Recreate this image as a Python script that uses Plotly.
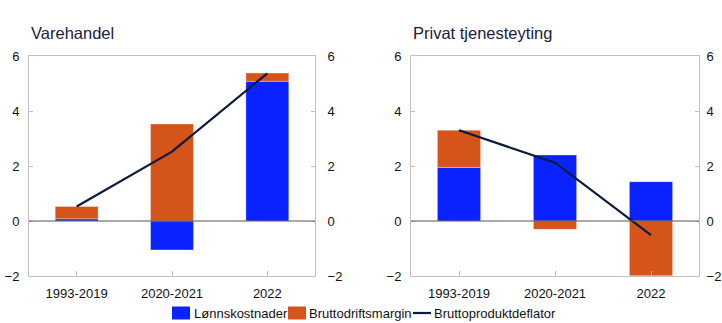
import plotly.graph_objects as go

categories = ["1993-2019", "2020-2021", "2022"]
titles = ["Varehandel", "Privat tjenesteyting"]
legend_names = ["Lønnskostnader", "Bruttodriftsmargin", "Bruttoproduktdeflator"]

vare_lonn = [0.08, -1.05, 5.08]
vare_brutto = [0.45, 3.53, 0.30]
vare_deflator = [0.53, 2.52, 5.37]

tjen_lonn = [1.95, 2.40, 1.43]
tjen_brutto = [1.35, -0.30, -1.99]
tjen_deflator = [3.30, 2.12, -0.51]

y_ticks = [-2, 0, 2, 4, 6]

BLUE = "#0a22ff"
ORANGE = "#d5541a"
NAVY = "#0b1a3d"
GRID = "#c0c0c0"
FONT = "Liberation Sans, Arial, sans-serif"

W, H = 722, 323
L, R, T, B = 29, 23, 56, 47
PW, PH = W - L - R, H - T - B


def px(x):
    return (x - L) / PW


def py(y):
    return (H - B - y) / PH


fig = go.Figure()

panels = [
    (vare_lonn, vare_brutto, vare_deflator, "x", "y"),
    (tjen_lonn, tjen_brutto, tjen_deflator, "x2", "y2"),
]
for lonn, brutto, defl, xa, ya in panels:
    fig.add_trace(go.Bar(x=categories, y=lonn, name=legend_names[0], marker_color=BLUE,
                         marker_line=dict(color="rgba(255,255,255,0.4)", width=0.8),
                         width=0.45, xaxis=xa, yaxis=ya, showlegend=False))
    fig.add_trace(go.Bar(x=categories, y=brutto, name=legend_names[1], marker_color=ORANGE,
                         marker_line=dict(color="rgba(255,255,255,0.4)", width=0.8),
                         width=0.45, xaxis=xa, yaxis=ya, showlegend=False))
    fig.add_trace(go.Scatter(x=categories, y=defl, name=legend_names[2], mode="lines",
                             line=dict(color=NAVY, width=2.2), xaxis=xa, yaxis=ya,
                             showlegend=False))

doms = [[px(29), px(315)], [px(411), px(699)]]
ydom = [0, 1]

common_y = dict(range=[-2, 6], tickvals=y_ticks, showgrid=False, showline=True, linecolor=GRID,
                linewidth=1, ticks="inside", ticklen=4, tickcolor=GRID, zeroline=False,
                tickfont=dict(size=13, color="#111111", family=FONT), fixedrange=True)
common_x = dict(showgrid=False, showline=True, linecolor=GRID, linewidth=1, mirror=True,
                ticks="inside", ticklen=5, tickcolor=GRID, ticklabelstandoff=5,
                tickfont=dict(size=13, color="#111111", family=FONT))

fig.update_layout(
    barmode="relative",
    width=W, height=H,
    margin=dict(l=L, r=R, t=T, b=B, autoexpand=False),
    paper_bgcolor="white", plot_bgcolor="white",
    font=dict(family=FONT, size=13, color="#111111"),
    xaxis=dict(domain=doms[0], anchor="y", **common_x),
    xaxis2=dict(domain=doms[1], anchor="y2", **common_x),
    yaxis=dict(domain=ydom, anchor="x", ticklabelstandoff=6, **common_y),
    yaxis2=dict(domain=ydom, anchor="x2", ticklabelstandoff=6, **common_y),
    yaxis3=dict(overlaying="y", side="right", anchor="x", ticklabelstandoff=9, **common_y),
    yaxis4=dict(overlaying="y2", side="right", anchor="x2", ticklabelstandoff=4, **common_y),
    showlegend=False,
)

# Invisible traces to activate the right-hand axes
fig.add_trace(go.Scatter(x=categories, y=vare_deflator, xaxis="x", yaxis="y3", mode="none",
                         showlegend=False, hoverinfo="skip"))
fig.add_trace(go.Scatter(x=categories, y=tjen_deflator, xaxis="x2", yaxis="y4", mode="none",
                         showlegend=False, hoverinfo="skip"))

# Zero reference lines above the bars
for xr, yr in [("x domain", "y"), ("x2 domain", "y2")]:
    fig.add_shape(type="line", xref=xr, yref=yr, x0=0, x1=1, y0=0, y1=0,
                  line=dict(color="#555555", width=1), layer="above")

for i, t in enumerate(titles):
    fig.add_annotation(text=t, xref="paper", yref="paper", x=doms[i][0] + px(30) - px(29) - 1 / PW,
                       y=py(33), xanchor="left", yanchor="middle", showarrow=False,
                       font=dict(size=16.5, color="#1a2040", family=FONT))

# Legend (drawn manually to match compact spacing)
leg_y = 313
box_h = 13
legend_x = [172, 288, 413]
legend_text_x = [192, 307, 432]
colors = [BLUE, ORANGE, NAVY]
for i, name in enumerate(legend_names):
    if i < 2:
        fig.add_shape(type="rect", xref="paper", yref="paper",
                      x0=px(legend_x[i]), x1=px(legend_x[i] + 18),
                      y0=py(leg_y - box_h / 2), y1=py(leg_y + box_h / 2),
                      fillcolor=colors[i], line=dict(width=0))
    else:
        fig.add_shape(type="line", xref="paper", yref="paper",
                      x0=px(legend_x[i]), x1=px(legend_x[i] + 18),
                      y0=py(leg_y), y1=py(leg_y),
                      line=dict(color=colors[i], width=2.2))
    fig.add_annotation(text=name, xref="paper", yref="paper", x=px(legend_text_x[i]), y=py(leg_y),
                       xanchor="left", yanchor="middle", showarrow=False,
                       font=dict(size=13, color="#111111", family=FONT))

fig.write_html("out.html")
